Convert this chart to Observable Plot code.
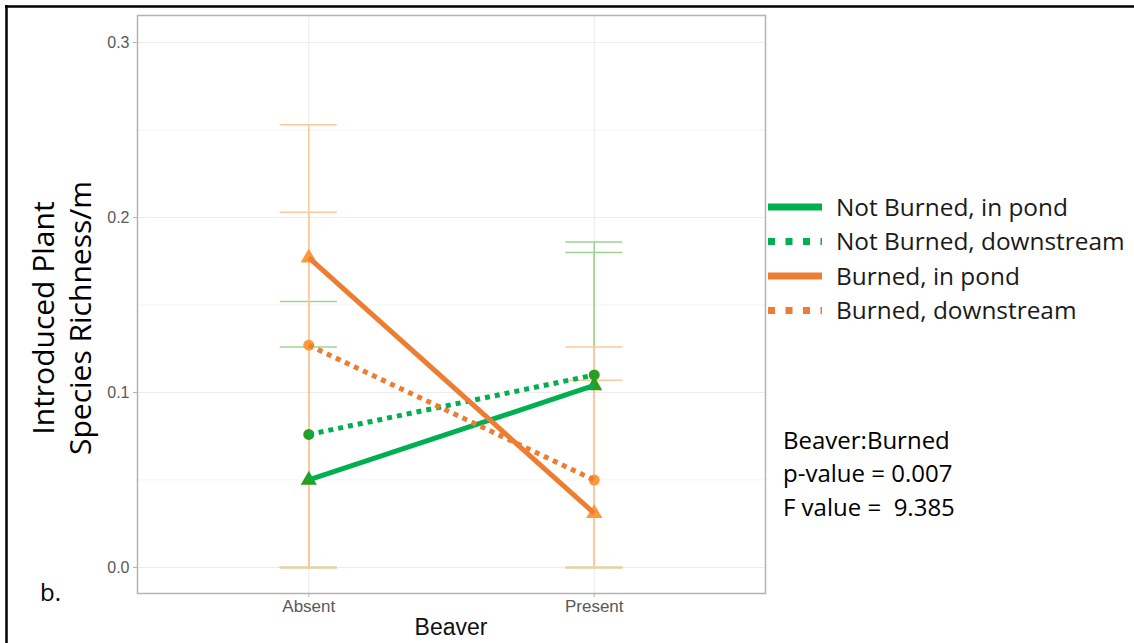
<!DOCTYPE html>
<html><head><meta charset="utf-8">
<script src="https://cdn.jsdelivr.net/npm/d3@7"></script>
<script src="https://cdn.jsdelivr.net/npm/@observablehq/plot@0.6"></script>
<style>
body{margin:0;background:#fff;}
#wrap{position:relative;width:1134px;height:643px;overflow:hidden;background:#fff;}
#wrap svg.ov{position:absolute;left:0;top:0;pointer-events:none;}
</style></head><body><div id="wrap"></div>
<script>
// ---- data ----
const beaver = ["Absent", "Present"];
const beaverPos = [1, 2];
const seriesNames = ["Not Burned, in pond", "Not Burned, downstream", "Burned, in pond", "Burned, downstream"];
const notBurnedPond = [0.050, 0.104];
const notBurnedDown = [0.076, 0.110];
const burnedPond = [0.177, 0.031];
const burnedDown = [0.127, 0.050];
const upperNotBurnedPond = [0.126, 0.180];
const upperNotBurnedDown = [0.152, 0.186];
const upperBurnedPond = [0.253, 0.107];
const upperBurnedDown = [0.203, 0.126];
const lowerAll = [0, 0];
const yTicks = [0, 0.1, 0.2, 0.3];
const yMinor = [0.05, 0.15, 0.25];
const statLines = ["Beaver:Burned", "p-value = 0.007", "F value =  9.385"];

// ---- styles ----
const GREEN = "#00b050", ORANGE = "#ed7d31";
const lineColor = [GREEN, GREEN, ORANGE, ORANGE];
const pointColor = ["#2e9c1f", "#2e9c1f", "#fb9a3c", "#fb9a3c"];
const barColor = ["#9fd392", "#9fd392", "#fdc99c", "#fdc99c"];
const dash = [null, "5,5", null, "5,5"];
const shape = ["triangle", "circle", "triangle", "circle"];

const means = [notBurnedPond, notBurnedDown, burnedPond, burnedDown];
const uppers = [upperNotBurnedPond, upperNotBurnedDown, upperBurnedPond, upperBurnedDown];
const rows = [];
seriesNames.forEach((s, k) => beaver.forEach((b, i) => rows.push({
  series: s, k, x: beaverPos[i], y: means[k][i], lo: lowerAll[i], hi: uppers[k][i]
})));
const caps = rows.flatMap(d => [{...d, v: d.lo}, {...d, v: d.hi}]);

const marks = [
  Plot.gridY(yMinor, {stroke: "#f4f4f4", strokeOpacity: 1, strokeWidth: 1}),
  Plot.gridY(yTicks, {stroke: "#ececec", strokeOpacity: 1, strokeWidth: 1}),
  Plot.gridX(beaverPos, {stroke: "#ececec", strokeOpacity: 1, strokeWidth: 1}),
  Plot.axisY({ticks: yTicks, tickFormat: d3.format(".1f"), tickSize: 4, tickPadding: 4, label: null, stroke: "#b3b3b3", fill: "#595959"}),
  Plot.axisX({ticks: beaverPos, tickFormat: d => beaver[d - 1], tickSize: 4, tickPadding: 2, label: null, stroke: "#b3b3b3", fill: "#595959", fontSize: 17})
];
[0, 1, 2, 3].forEach(k => {
  const r = rows.filter(d => d.k === k), c = caps.filter(d => d.k === k);
  marks.push(Plot.ruleX(r, {x: "x", y1: "lo", y2: "hi", stroke: barColor[k], strokeWidth: 1.5}));
  marks.push(Plot.ruleY(c, {y: "v", x1: d => d.x - 0.1, x2: d => d.x + 0.1, stroke: barColor[k], strokeWidth: 1.5}));
});
marks.push(Plot.frame({stroke: "#b3b3b3", strokeWidth: 1.5}));
[0, 1, 2, 3].forEach(k => {
  marks.push(Plot.dot(rows.filter(d => d.k === k), {x: "x", y: "y", symbol: shape[k], fill: pointColor[k], r: shape[k] === "triangle" ? 6 : 5.5}));
});
[0, 1, 2, 3].forEach(k => {
  marks.push(Plot.line(rows.filter(d => d.k === k), {x: "x", y: "y", stroke: lineColor[k], strokeWidth: 5,
    strokeDasharray: dash[k] || undefined, strokeLinecap: "butt"}));
});

const chart = Plot.plot({
  width: 1134, height: 643,
  marginLeft: 137, marginRight: 369, marginTop: 15, marginBottom: 50,
  x: {type: "linear", domain: [0.4, 2.6]},
  y: {domain: [-0.01486, 0.3154]},
  style: {fontFamily: "Liberation Sans, Arial, sans-serif", fontSize: "16px", background: "#fff"},
  marks
});
const wrap = document.getElementById("wrap");
wrap.appendChild(chart);

// ---- overlay texts: titles, legend, annotation ----
const ov = d3.select(wrap).append("svg").attr("class", "ov").attr("width", 1134).attr("height", 643);
const F = "'Open Sans', sans-serif";
// outer frame (top & left)
ov.append("line").attr("x1", 5).attr("x2", 1134).attr("y1", 6.5).attr("y2", 6.5).attr("stroke", "#000").attr("stroke-width", 2.5);
ov.append("line").attr("x1", 6.5).attr("x2", 6.5).attr("y1", 5).attr("y2", 643).attr("stroke", "#000").attr("stroke-width", 2.5);
// y title
const yt = ov.append("text").attr("transform", "translate(43,318) rotate(-90)").attr("font-family", F).attr("font-size", 30).attr("text-anchor", "middle").attr("fill", "#000");
yt.append("tspan").attr("x", 0).attr("dy", "0.35em").text("Introduced Plant");
yt.append("tspan").attr("x", 0).attr("dy", 37).text("Species Richness/m");
// x title
ov.append("text").attr("x", 451).attr("y", 627).attr("dy", "0.35em").attr("text-anchor", "middle")
  .attr("font-family", "Liberation Sans, Arial, sans-serif").attr("font-size", 23).attr("fill", "#111").text("Beaver");
// panel letter
ov.append("text").attr("x", 40).attr("y", 593).attr("dy", "0.35em").attr("font-family", F).attr("font-size", 24).attr("fill", "#000").text("b.");
// legend
seriesNames.forEach((s, k) => {
  const cy = 207 + k * 34.5;
  ov.append("line").attr("x1", 768).attr("x2", 822).attr("y1", cy).attr("y2", cy)
    .attr("stroke", lineColor[k]).attr("stroke-width", 7).attr("stroke-dasharray", dash[k] ? "7,10.5" : null);
  ov.append("text").attr("x", 836).attr("y", cy).attr("dy", "0.36em").attr("font-family", F).attr("font-size", 24.4).attr("fill", "#1a1a1a").text(s);
});
// stats annotation
statLines.forEach((t, i) => {
  ov.append("text").attr("x", 783).attr("y", 440 + i * 33.5).attr("dy", "0.36em").attr("font-family", F)
    .attr("font-size", 24).attr("fill", "#000").attr("xml:space", "preserve").style("white-space", "pre").text(t);
});
</script></body></html>
